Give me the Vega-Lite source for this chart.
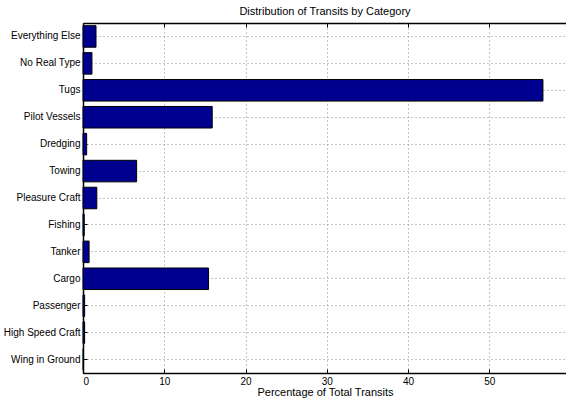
{
  "$schema": "https://vega.github.io/schema/vega-lite/v6.json",
  "autosize": {"type": "none"},
  "padding": {"left": 83, "top": 23, "right": 0, "bottom": 27},
  "width": 484,
  "height": 350,
  "background": "white",
  "title": {
    "text": "Distribution of Transits by Category",
    "font": "Liberation Sans",
    "fontSize": 11,
    "fontWeight": "normal",
    "color": "black",
    "anchor": "middle",
    "offset": 6
  },
  "config": {
    "view": {"stroke": "black", "strokeWidth": 1},
    "axis": {
      "labelFont": "Liberation Sans",
      "labelFontSize": 10,
      "labelColor": "black",
      "titleFont": "Liberation Sans",
      "titleFontSize": 11,
      "titleFontWeight": "normal",
      "titleColor": "black",
      "domainColor": "black",
      "tickColor": "black",
      "gridColor": "#8a8a8a",
      "gridDash": [1, 3],
      "gridWidth": 1
    }
  },
  "data": {
    "values": [
      {"category": "Everything Else", "pct": 1.6},
      {"category": "No Real Type", "pct": 1.1},
      {"category": "Tugs", "pct": 56.6},
      {"category": "Pilot Vessels", "pct": 15.9},
      {"category": "Dredging", "pct": 0.45},
      {"category": "Towing", "pct": 6.6},
      {"category": "Pleasure Craft", "pct": 1.7},
      {"category": "Fishing", "pct": 0.15},
      {"category": "Tanker", "pct": 0.75},
      {"category": "Cargo", "pct": 15.45},
      {"category": "Passenger", "pct": 0.2},
      {"category": "High Speed Craft", "pct": 0.2},
      {"category": "Wing in Ground", "pct": 0.05}
    ]
  },
  "layer": [
    {
      "mark": {"type": "bar", "color": "#00008f", "stroke": "black", "strokeWidth": 1},
      "encoding": {
        "y": {
          "field": "category",
          "type": "nominal",
          "sort": null,
          "scale": {"paddingInner": 0.2, "paddingOuter": 0.1},
          "axis": {
            "title": null,
            "grid": true,
            "tickSize": -4,
            "labelPadding": 7,
            "domainWidth": 1.5
          }
        },
        "x": {
          "field": "pct",
          "type": "quantitative",
          "scale": {"domain": [0, 59.56], "nice": false, "zero": true},
          "axis": {
            "title": "Percentage of Total Transits",
            "values": [0, 10, 20, 30, 40, 50],
            "grid": true,
            "tickSize": -4,
            "labelPadding": 7,
            "titlePadding": 0,
            "domainWidth": 1.5
          }
        }
      }
    },
    {
      "mark": {"type": "bar", "opacity": 0},
      "encoding": {
        "y": {"field": "category", "type": "nominal", "sort": null},
        "x": {
          "field": "pct",
          "type": "quantitative",
          "axis": {
            "orient": "top",
            "title": null,
            "labels": false,
            "grid": false,
            "values": [0, 10, 20, 30, 40, 50],
            "tickSize": -4,
            "domainWidth": 1.5
          }
        }
      }
    }
  ],
  "resolve": {"axis": {"x": "independent"}}
}
